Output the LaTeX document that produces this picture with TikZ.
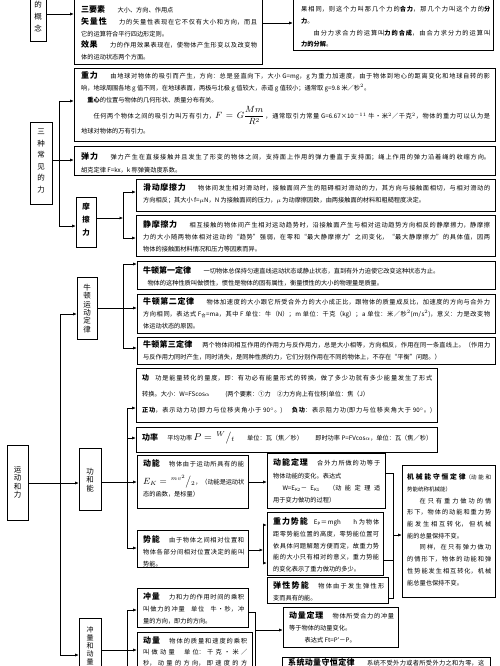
\documentclass[tikz,border=0pt]{standalone}
\usepackage{fontspec}
\setmainfont{Noto Sans CJK SC}
\usetikzlibrary{arrows.meta,fit,shadows}
\XeTeXlinebreaklocale "zh"
\XeTeXlinebreakskip=0pt plus 1.5pt minus 0.3pt
\newcommand\hd[1]{{\fontsize{8}{11.7}\selectfont\bfseries #1}}
\newcommand\st{\vrule height7pt width0pt\relax}
\newcommand\jl{\parfillskip=0pt\par}
\newcommand\tn[6][]{\node[tx,text width=#5pt,#1] (#2) at (#3,#4) {\parindent=0pt\st #6};}
\begin{document}
\begin{tikzpicture}[x=1pt,y=-1pt,
 bx/.style={draw,line width=0.6pt,fill=white,inner sep=0pt,drop shadow={shadow xshift=1.2pt,shadow yshift=-1.2pt,fill=black!75}},
 lb/.style={draw,line width=0.6pt,fill=white,inner sep=0pt},
 lt/.style={inner sep=0pt,align=center},
 tx/.style={inner sep=0pt,anchor=north west,align=justify,font=\fontsize{6.2}{11.7}\selectfont},
 ar/.style={-{Latex[length=3.5pt,width=3pt]},line width=0.55pt},
 ln/.style={line width=0.55pt}]
\useasboundingbox (0,0) rectangle (500,666);
\clip (0,0) rectangle (500,666);
% ---- label boxes
\node[lb,fit={(30,-20)(46,41)}] (gn) {};
\node[lt,font=\fontsize{7.5}{12}\selectfont] (gnt) at (38,17) {的\\概\\念};
\node[lb,fit={(30,122)(52,204)}] (sz) {};
\node[lt,font=\fontsize{7.5}{11.6}\selectfont] (szt) at (41,161) {三\\种\\常\\见\\的\\力};
\node[lb,fit={(76,197)(96,247)}] (mc) {};
\node[lt,font=\fontsize{7.5}{13}\selectfont\bfseries] (mct) at (86,220) {摩\\擦\\力};
\node[lb,fit={(77,277)(97,339)}] (nd) {};
\node[lt,font=\fontsize{7.5}{8.3}\selectfont] (ndt) at (87,308.5) {牛\\顿\\运\\动\\定\\律};
\node[lb,fit={(7,445)(28,520)}] (yd) {};
\node[lt,font=\fontsize{7.5}{8.5}\selectfont] (ydt) at (17.5,482.5) {运\\动\\和\\力};
\node[lb,fit={(79,448)(101,510)}] (gh) {};
\node[lt,font=\fontsize{7.5}{8.5}\selectfont] (ght) at (90,480) {功\\和\\能};
\node[lb,fit={(79,618)(101,700)}] (cd) {};
\node[lt,font=\fontsize{7}{8}\selectfont] (cdt) at (90,646) {冲\\量\\和\\动\\量};
% ---- main boxes
\node[bx,fit={(74,-12)(262,64)}] (c1) {};
\node[bx,fit={(293,-12)(493,50)}] (c2) {};
\node[bx,fit={(74,68)(495,141)}] (zl) {};
\node[bx,fit={(74,146)(495,175)}] (tl) {};
\node[bx,fit={(136,179)(495,211)}] (hdm) {};
\node[bx,fit={(136,215)(495,256)}] (jm) {};
\node[bx,fit={(137,261)(495,289)}] (n1) {};
\node[bx,fit={(137,294)(495,333)}] (n2) {};
\node[bx,fit={(137,337)(495,364)}] (n3) {};
\node[bx,fit={(136,368)(437,422)}] (gong) {};
\node[bx,fit={(136,427)(437,452)}] (gl) {};
\node[bx,fit={(137,455)(248,508)}] (dn) {};
\node[bx,fit={(137,530)(248,567)}] (sn) {};
\node[bx,fit={(267,453)(385,508)}] (dl) {};
\node[bx,fit={(267,512)(383,575)}] (zs) {};
\node[bx,fit={(267,577)(388,603)}] (ts) {};
\node[bx,fit={(402,465)(495,597)}] (jx) {};
\node[bx,fit={(137,588)(248,627)}] (cl) {};
\node[bx,fit={(137,632)(252,700)}] (dm) {};
\node[bx,fit={(283,607)(398,647)}] (dd) {};
\node[bx,fit={(282,657)(490,700)}] (xt) {};
% ---- texts
\tn{c1t}{81}{5.5}{176}{\hd{三要素}\hspace{2em}大小、方向、作用点\par
\hd{矢量性}\hspace{2em}力的矢量性表现在它不仅有大小和方向，而且\linebreak 它的运算符合平行四边形定则。\par
\hd{效果}\hspace{2em}力的作用效果表现在，使物体产生形变以及改变物\linebreak 体的运动状态两个方面。}
\tn{c2t}{301}{4.5}{189}{果相同，则这个力叫那几个力的\textbf{合力}，那几个力叫这个力的\textbf{分}\linebreak\textbf{力}。\par
\hspace*{2em}由分力求合力的运算叫\textbf{力的合成}，由合力求分力的运算叫\linebreak\textbf{力的分解}。}
\tn{zlt}{81}{71.5}{409}{\hd{重力}\hspace{2em}由地球对物体的吸引而产生，方向：总是竖直向下，大小 G=mg，g 为重力加速度，由于物体到地心的距离变化和地球自转的影\linebreak 响，地球周围各地 g 值不同，在地球表面，两极与北极 g 值较大，赤道 g 值较小；通常取 g=9.8 米／秒$^2$。\par
\hspace*{1em}\textbf{重心}的位置与物体的几何形状、质量分布有关。\par
\vrule height15pt depth9pt width0pt\hspace*{2em}任何两个物体之间的吸引力叫万有引力，{\fontsize{9}{9}\selectfont$F=G\displaystyle\frac{Mm}{R^2}$}\,，通常取引力常量 G=6.67×10$^{-11}$ 牛·米$^2$／千克$^2$，物体的重力可以认为是\linebreak 地球对物体的万有引力。}
\tn[font=\fontsize{6.2}{13}\selectfont]{tlt}{81}{152.5}{409}{\hd{弹力}\hspace{2em}弹力产生在直接接触并且发生了形变的物体之间，支持面上作用的弹力垂直于支持面；绳上作用的弹力沿着绳的收缩方向。\linebreak 胡克定律 F=kx，k 称弹簧劲度系数。}
\tn{hdt}{143}{183.5}{347}{\hd{滑动摩擦力}\hspace{2em}物体间发生相对滑动时，接触面间产生的阻碍相对滑动的力，其方向与接触面相切，与相对滑动的\linebreak 方向相反；其大小 f=$\mu$N，N 为接触面间的压力，$\mu$ 为动摩擦因数，由两接触面的材料和粗糙程度决定。}
\tn{jmt}{143}{220.5}{347}{\hd{静摩擦力}\hspace{2em}相互接触的物体间产生相对运动趋势时，沿接触面产生与相对运动趋势方向相反的静摩擦力，静摩擦\linebreak 力的大小随两物体相对运动的“趋势”强弱，在零和“最大静摩擦力”之间变化，“最大静摩擦力”的具体值，因两\linebreak 物体的接触面材料情况和压力等因素而异。}
\tn{n1t}{143}{266.5}{347}{\hd{牛顿第一定律}\hspace{2em}一切物体总保持匀速直线运动状态或静止状态，直到有外力迫使它改变这种状态为止。\par
\hspace*{0.7em}物体的这种性质叫做惯性，惯性是物体的固有属性，衡量惯性的大小的物理量是质量。}
\tn{n2t}{143}{297.5}{347}{\hd{牛顿第二定律}\hspace{2em}物体加速度的大小跟它所受合外力的大小成正比，跟物体的质量成反比，加速度的方向与合外力\linebreak 方向相同，表达式 F\textsubscript{合}=ma，其中 F 单位：牛（N）；m 单位：千克（kg）；a 单位：米／秒$^2$(m/s$^2$)，意义：力是改变物\linebreak 体运动状态的原因。}
\tn{n3t}{143}{340.5}{347}{\hd{牛顿第三定律}\hspace{1.6em}两个物体间相互作用的作用力与反作用力，总是大小相等，方向相反，作用在同一条直线上。（作用力\linebreak 与反作用力同时产生，同时消失，是同种性质的力，它们分别作用在不同的物体上，不存在“平衡”问题。）}
\tn[font=\fontsize{6.2}{16}\selectfont]{gongt}{142}{373.5}{290}{{\fontsize{7}{16}\selectfont\bfseries 功}\hspace{1em}功是能量转化的量度，即：有功必有能量形式的转换，做了多少功就有多少能量发生了形式\linebreak 转换。大小：W=FScos$\alpha$\hspace{2.5em}(两个要素：①力\hspace{1em}②力方向上有位移)单位：焦（J）\par
\textbf{正功}，表示动力功(即力与位移夹角小于 90$^\circ$。)\hspace{1.5em}\textbf{负功}：表示阻力功(即力与位移夹角大于 90$^\circ$。)\jl}
\tn{glt}{142}{431.5}{290}{\hd{功率}\hspace{1.5em}平均功率 {\fontsize{10}{10}\selectfont$P=\,{}^{W}\big/{}_{t}$}\hspace{2em}单位：瓦（焦／秒）\hspace{2em}即时功率 P=FVcos$\alpha$，单位：瓦（焦／秒）\jl}
\tn{dnt}{143}{459.5}{101}{\hd{动能}\hspace{1.5em}物体由于运动所具有的能\linebreak \vrule height16pt depth5pt width0pt{\fontsize{9}{9}\selectfont$E_K=\,{}^{mv^2}\mkern-1mu\big/{}_{2}$}，（动能是运动状\linebreak 态的函数，是标量）}
\tn{snt}{143}{535.5}{101}{\hd{势能}\hspace{1.5em}由于物体之间相对位置和\linebreak 物体各部分间相对位置决定的能叫\linebreak 势能。}
\tn[font=\fontsize{6.2}{12.3}\selectfont]{dlt}{273}{458.5}{107}{\hd{动能定理}\hspace{1.5em}合外力所做的功等于\linebreak 物体动能的变化。表达式\par
\hspace*{1.5em}W=E\textsubscript{K2}－E\textsubscript{K1}\hspace{1.5em}（动能定理适\linebreak 用于变力做功的过程）}
\tn{zst}{273}{517.5}{106}{\hd{重力势能}\hspace{1em}E\textsubscript{P}＝mgh\hspace{2em}h 为物体\linebreak 距零势能位置的高度，零势能位置可\linebreak 依具体问题解题方便而定，故重力势\linebreak 能的大小只有相对的意义，重力势能\linebreak 的变化表示了重力做功的多少。}
\tn{tst}{273}{581.5}{111}{\hd{弹性势能}\hspace{1.5em}物体由于发生弹性形\linebreak 变而具有的能。}
\tn{jxt}{407}{472.5}{84}{{\fontsize{6.8}{11.7}\selectfont\bfseries 机械能守恒定律}{\fontsize{5.5}{11.7}\selectfont（动能和\linebreak 势能统称机械能）}\par
\hspace*{2em}在只有重力做功的情\linebreak 形下，物体的动能和重力势\linebreak 能发生相互转化，但机械\linebreak 能的总量保持不变。\par
\hspace*{2em}同样，在只有弹力做功\linebreak 的情形下，物体的动能和弹\linebreak 性势能发生相互转化，机械\linebreak 能总量也保持不变。}
\tn{clt}{143}{592.5}{101}{\hd{冲量}\hspace{1.5em}力和力的作用时间的乘积\linebreak 叫做力的冲量\hspace{1em}单位\hspace{1em}牛·秒，冲\linebreak 量的方向，即力的方向。}
\tn[font=\fontsize{6.2}{11}\selectfont]{dmt}{143}{636.5}{104}{\hd{动量}\hspace{1.5em}物体的质量和速度的乘积\linebreak 叫做动量\hspace{1.5em}单位：千克·米／\linebreak 秒，动量的方向，即速度的方\jl}
\tn{ddt}{289}{611.5}{105}{\hd{动量定理}\hspace{1.5em}物体所受合力的冲量\linebreak 等于物体的动量变化。\par
\hspace*{2.5em}表达式 Ft=P′－P。}
\tn{xtt}{288}{658.5}{196}{\hd{系统动量守恒定律}\hspace{2em}系统不受外力或者所受外力之和为零，这\jl}
% ---- connectors
\draw[ar] (gn.east |- 0,14) -- (c1.west |- 0,14);
\draw[ar] (c1.east |- 0,23) -- (c2.west |- 0,23);
\coordinate (b1t) at (59,101); \coordinate (b1b) at (59,226);
\draw[ln] (b1t) -- (b1b);
\draw[ar] (b1t) -- (zl.west |- b1t);
\draw[ar] (b1b) -- (mc.west |- b1b);
\draw[ar] (sz.east |- 0,160) -- (tl.west |- 0,160);
\coordinate (b2t) at (123,192); \coordinate (b2b) at (123,238);
\draw[ln] (b2t) -- (b2b);
\draw[ar] (b2t) -- (hdm.west |- b2t);
\draw[ar] (b2b) -- (jm.west |- b2b);
\draw[ar] (mc.east |- 0,218) -- (b2t |- 0,218);
\coordinate (tr1) at (60,314); \coordinate (tr2) at (60,655);
\draw[ln] (tr1) -- (tr2);
\draw[ar] (tr1) -- (nd.west |- tr1);
\draw[ar] (tr2) -- (cd.west |- tr2);
\draw[ar] (yd.east |- 0,483) -- (gh.west |- 0,483);
\draw[ar] (nd.east |- 0,308) -- (n2.west |- 0,308);
\coordinate (b3t) at (123,264); \coordinate (b3b) at (123,348);
\draw[ln] (b3t) -- (b3b);
\draw[ar] (b3t) -- (n1.west |- b3t);
\draw[ar] (b3b) -- (n3.west |- b3b);
\draw[ar] (gh.east |- 0,482) -- (dn.west |- 0,482);
\coordinate (b4t) at (127,408); \coordinate (b4m) at (127,438); \coordinate (b4b) at (127,548);
\draw[ln] (b4t) -- (b4b);
\draw[ar] (b4t) -- (gong.west |- b4t);
\draw[ar] (b4m) -- (gl.west |- b4m);
\draw[ar] (b4b) -- (sn.west |- b4b);
\draw[ar] (dn.east |- 0,482) -- (dl.west |- 0,482);
\coordinate (b5t) at (263,525); \coordinate (b5b) at (263,563);
\draw[ln] (b5t) -- (b5b);
\draw[ar] (b5t) -- (zs.west |- b5t);
\draw[ar] (b5b) -- (ts.west |- b5b);
\draw[ar] (sn.east |- 0,550) -- (b5t |- 0,550);
\coordinate (b6t) at (393,473); \coordinate (b6b) at (393,598);
\draw[ln] (dl.east |- b6t) -- (b6t) -- (b6b) -- (ts.east |- b6b);
\draw[ln] (zs.east |- 0,560) -- (b6t |- 0,560);
\draw[ar] (b6t |- 0,535) -- (jx.west |- 0,535);
\draw[ar] (cd.east |- 0,650) -- (dm.west |- 0,650);
\coordinate (b7t) at (127,610); \coordinate (b7b) at (127,700);
\draw[ln] (b7t) -- (b7b);
\draw[ar] (b7t) -- (cl.west |- b7t);
\coordinate (b8t) at (255,612); \coordinate (b8b) at (255,700);
\draw[ln] (cl.east |- b8t) -- (b8t) -- (b8b);
\draw[ar] (b8t |- 0,630) -- (dd.west |- 0,630);
\end{tikzpicture}
\end{document}
